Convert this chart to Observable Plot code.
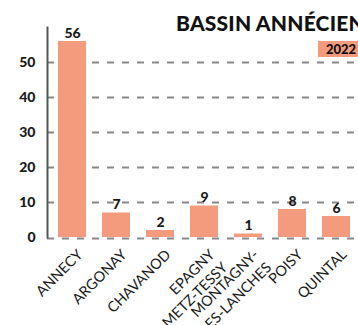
<!DOCTYPE html>
<html>
<head>
<meta charset="utf-8">
<script src="https://cdn.jsdelivr.net/npm/d3@7"></script>
<script src="https://cdn.jsdelivr.net/npm/@observablehq/plot@0.6"></script>
<style>
  html, body { margin: 0; padding: 0; background: #fff; overflow: hidden; }
  #wrap { position: relative; width: 358px; height: 325px; overflow: hidden; font-family: Lato, "Open Sans", sans-serif; }
  #title { position: absolute; left: 176px; top: 10px; font-size: 21px; font-weight: 900; white-space: nowrap; color: #111; letter-spacing: 0.2px; }
  #legend { position: absolute; left: 318px; top: 41px; width: 50px; height: 16px; background: #F39B7C; font-size: 13px; font-weight: 900; color: #111; line-height: 16px; padding-left: 8px; box-sizing: border-box; }
  #chart { position: absolute; left: 0; top: 0; }
</style>
</head>
<body>
<div id="wrap">
  <div id="chart"></div>
  <div id="title">BASSIN ANNÉCIEN</div>
  <div id="legend">2022</div>
</div>
<script>
const communes = ["ANNECY", "ARGONAY", "CHAVANOD", "EPAGNY\nMETZ-TESSY", "MONTAGNY-\nLES-LANCHES", "POISY", "QUINTAL"];
const values2022 = [56, 7, 2, 9, 1, 8, 6];
const yTicks = [0, 10, 20, 30, 40, 50];
const seriesName = "2022";

const data = communes.map((c, i) => ({commune: c, value: values2022[i]}));

const barColor = "#F39B7C";
const gridColor = "#888";

const chart = Plot.plot({
  width: 358,
  height: 325,
  marginLeft: 47,
  marginRight: 0,
  marginTop: 27,
  marginBottom: 88,
  style: {fontFamily: "Lato, 'Open Sans', sans-serif", background: "transparent"},
  x: {type: "band", domain: communes, range: [47, 360.6], paddingInner: 0.37, paddingOuter: 0.185, align: 0.5, label: null, axis: null},
  y: {domain: [0, 60], label: null},
  marks: [
    Plot.ruleY(yTicks.filter(d => d > 0), {stroke: gridColor, strokeWidth: 2, strokeDasharray: "7,8"}),
    Plot.barY(data, {x: "commune", y: "value", fill: barColor}),
    Plot.ruleY([0], {stroke: gridColor, strokeWidth: 2, strokeDasharray: "7,8", dy: 1}),
    Plot.frame({anchor: "left", stroke: "#555", strokeWidth: 2}),
    Plot.axisY({ticks: yTicks, tickSize: 0, tickPadding: 12, fontSize: 14, fontWeight: 900, fill: "#1a1a1a", label: null}),
    Plot.text(data, {x: "commune", frameAnchor: "bottom", text: "commune", rotate: -45, textAnchor: "end", lineAnchor: "top", lineHeight: 1.25, dx: 2, dy: 9, fontSize: 14.5, fill: "#1a1a1a"}),
    Plot.text(data, {x: "commune", y: "value", text: d => String(d.value), dy: -8, fontSize: 14, fontWeight: 900, fill: "#1a1a1a"})
  ]
});
document.getElementById("chart").appendChild(chart);
</script>
</body>
</html>
